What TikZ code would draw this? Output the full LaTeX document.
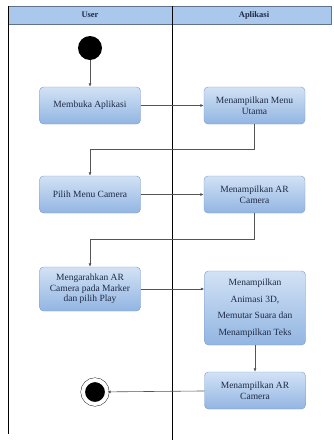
\documentclass[tikz,border=0pt]{standalone}
\usepackage{fontspec}
\setmainfont{Liberation Serif}
\usetikzlibrary{arrows.meta}
\definecolor{headfill}{HTML}{A9C8EC}
\definecolor{headline}{HTML}{5F7391}
\definecolor{acttop}{HTML}{D2E2F5}
\definecolor{actbot}{HTML}{92B5E2}
\definecolor{actline}{HTML}{7C9BC8}
\definecolor{flowgray}{HTML}{555555}
\definecolor{acttext}{HTML}{1F2A44}
\tikzset{
  act/.style={draw=actline, rounded corners=4pt, top color=acttop, bottom color=actbot,
    minimum width=101pt, minimum height=37pt, align=center, inner sep=2pt,
    text=acttext, font=\fontsize{9.5}{10.5}\selectfont},
  flow/.style={draw=flowgray, line width=0.6pt, -{Latex[length=3.5pt,width=3pt]}},
  start/.style={circle, fill=black, minimum size=24pt, inner sep=0pt},
  stop/.style={circle, draw, fill=black, minimum size=24pt, inner sep=0pt,
    double=white, double distance=4pt},
  lane/.style={font=\bfseries\fontsize{8.5}{9}\selectfont, text=acttext}
}
\begin{document}
\begin{tikzpicture}[x=1pt,y=-1pt]
\useasboundingbox (0,0) rectangle (333,440);
% swimlanes
\draw[draw=headline, fill=headfill, line width=0.8pt] (8,6) rectangle (331,24);
\draw[line width=0.7pt] (8,6) -- (8,434);
\draw[line width=0.7pt] (172,6) -- (172,440);
\node[lane] (user) at (90,15) {User};
\node[lane] (app) at (254,15) {Aplikasi};
% activities
\node[start] (begin) at (90,48) {};
\node[act] (buka) at (90,105.5) {Membuka Aplikasi};
\node[act] (menu) at (254.5,105.5) {Menampilkan Menu\\Utama};
\node[act] (pilih) at (90,194.5) {Pilih Menu Camera};
\node[act] (kamera) at (254.5,194.5) {Menampilkan AR\\Camera};
\node[act, minimum height=44pt] (arah) at (90,289) {Mengarahkan AR\\Camera pada Marker\\dan pilih Play};
\node[act, minimum height=74pt, font=\fontsize{9.5}{16.5}\selectfont] (efek) at (255,308) {Menampilkan\\Animasi 3D,\\Memutar Suara dan\\Menampilkan Teks};
\node[act] (tampil) at (255,390.5) {Menampilkan AR\\Camera};
\node[stop] (end) at (95,392) {};
% flows
\draw[flow] (begin) -- (buka);
\draw[flow] (buka) -- (menu);
\draw[flow] (menu.south) -- ++(0,25) -| (pilih.north);
\draw[flow] (pilih) -- (kamera);
\draw[flow] (kamera.south) -- ++(0,26) -| (arah.north);
\draw[flow] (arah.east) -- (arah.east -| efek.west);
\draw[flow] (efek) -- (tampil);
\draw[flow] (tampil) -- (end);
\end{tikzpicture}
\end{document}
